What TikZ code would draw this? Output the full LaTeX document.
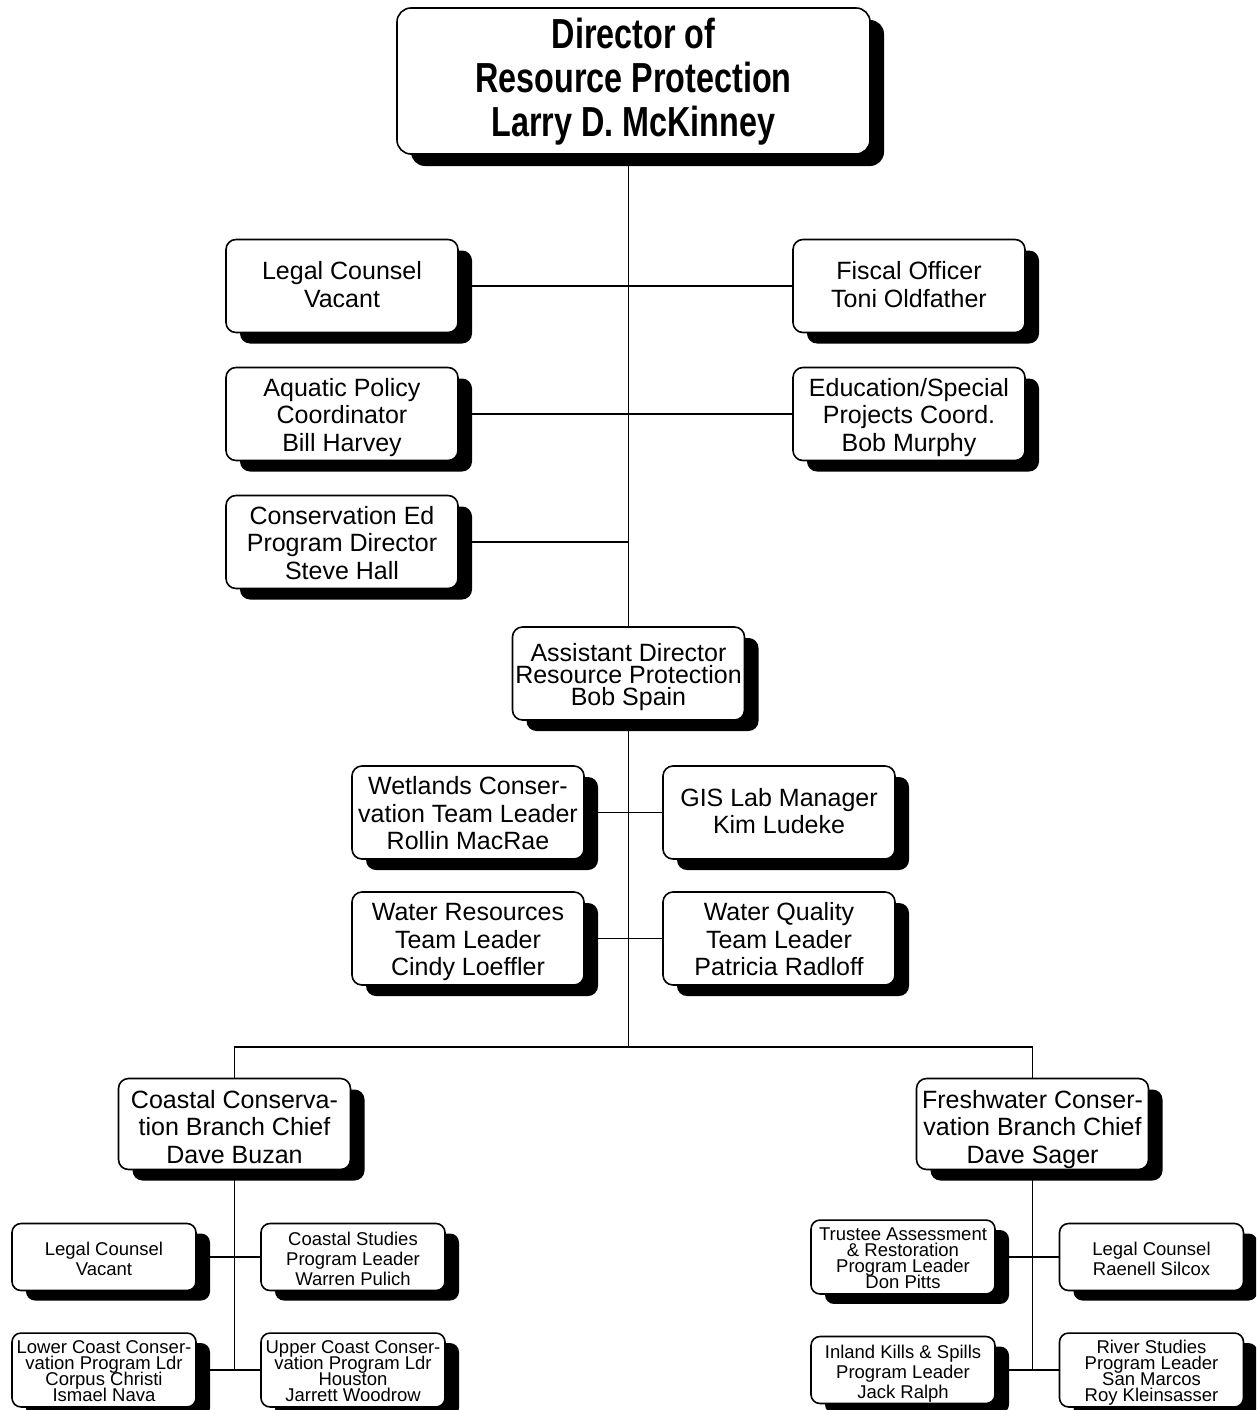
\documentclass[tikz,border=0pt]{standalone}
\usepackage{fontspec}
\setmainfont{Liberation Sans}
\newfontfamily\headfont{Liberation Sans}[FakeStretch=0.77]
\usetikzlibrary{shadows}

% invisible struts that fix the height of a box's first line (\H..)
% and the depth of its last line (\D..)
\newcommand\Htop{\vrule width 0pt height 32pt depth 0pt\relax}
\newcommand\Dtop{\vrule width 0pt height 0pt depth 10pt\relax}
\newcommand\Hmid{\vrule width 0pt height 25pt depth 0pt\relax}
\newcommand\Hpair{\vrule width 0pt height 21pt depth 0pt\relax}
\newcommand\Hbr{\vrule width 0pt height 29pt depth 0pt\relax}
\newcommand\Dmid{\vrule width 0pt height 0pt depth 6pt\relax}
\newcommand\Hsml{\vrule width 0pt height 21pt depth 0pt\relax}
\newcommand\Htgt{\vrule width 0pt height 20pt depth 0pt\relax}
\newcommand\Dsml{\vrule width 0pt height 0pt depth 5pt\relax}

\tikzset{
  unitbox/.style={draw=black, line width=1.6pt, fill=white, rectangle,
    align=center, inner sep=0pt},
  topbox/.style={unitbox, rounded corners=14pt, minimum width=473pt, minimum height=146pt,
    font=\headfont\bfseries\fontsize{42}{44}\selectfont,
    drop shadow={shadow xshift=14pt, shadow yshift=-12pt, opacity=1, fill=black}},
  midbox/.style={unitbox, rounded corners=10pt, minimum width=232pt, minimum height=93pt,
    font=\fontsize{25}{27.5}\selectfont,
    drop shadow={shadow xshift=14pt, shadow yshift=-11pt, opacity=1, fill=black}},
  smallbox/.style={unitbox, rounded corners=9pt, minimum width=184pt, minimum height=67pt,
    font=\fontsize{18.5}{20}\selectfont,
    drop shadow={shadow xshift=14pt, shadow yshift=-10pt, opacity=1, fill=black}},
  tightbox/.style={smallbox, font=\fontsize{18.5}{16.3}\selectfont},
  link/.style={draw=black, line width=1.6pt},
}

\begin{document}
\lineskiplimit=-100pt
\begin{tikzpicture}[x=1pt, y=-1pt]
\useasboundingbox (0,0) rectangle (1256,1410);
\clip (0,0) rectangle (1256,1410);

\coordinate (bar) at (628.5,1047);

% director level
\node[topbox] (dir) at (633.5,81) {Director of\Htop\\Resource Protection\\Larry D. McKinney\Dtop};

\node[midbox] (lc)  at (342,286) {Legal Counsel\Hpair\\Vacant\Dmid};
\node[midbox] (fo)  at (909,286) {Fiscal Officer\Hpair\\Toni Oldfather\Dmid};
\node[midbox] (apc) at (342,414) {Aquatic Policy\Hmid\\Coordinator\\Bill Harvey\Dmid};
\node[midbox] (esp) at (909,414) {Education/Special\Hmid\\Projects Coord.\\Bob Murphy\Dmid};
\node[midbox] (ced) at (342,542) {Conservation Ed\Hmid\\Program Director\\Steve Hall\Dmid};

\node[midbox, font=\fontsize{25}{22}\selectfont] (asst) at (628.5,673.5)
  {Assistant Director\Hmid\\Resource Protection\\Bob Spain\Dmid};

\node[midbox] (wet) at (468,812.5) {Wetlands Conser-\Hmid\\vation Team Leader\\Rollin MacRae\Dmid};
\node[midbox] (gis) at (779,812.5) {GIS Lab Manager\Hpair\\Kim Ludeke\Dmid};
\node[midbox] (wr)  at (468,938.5) {Water Resources\Hmid\\Team Leader\\Cindy Loeffler\Dmid};
\node[midbox] (wq)  at (779,938.5) {Water Quality\Hmid\\Team Leader\\Patricia Radloff\Dmid};

\node[midbox, minimum height=91pt] (coast) at (234.5,1124)
  {Coastal Conserva-\Hbr\\tion Branch Chief\\Dave Buzan\Dmid};
\node[midbox, minimum height=91pt] (fresh) at (1032.5,1124)
  {Freshwater Conser-\Hbr\\vation Branch Chief\\Dave Sager\Dmid};

% coastal branch
\node[smallbox] (lcv) at (104,1257) {Legal Counsel\Hsml\\Vacant\Dsml};
\node[smallbox] (cs)  at (353,1257) {Coastal Studies\Hsml\\Program Leader\\Warren Pulich\Dsml};
\node[tightbox] (low) at (104,1370) {Lower Coast Conser-\Htgt\\vation Program Ldr\\Corpus Christi\\Ismael Nava\Dsml};
\node[tightbox] (up)  at (353,1370) {Upper Coast Conser-\Htgt\\vation Program Ldr\\Houston\\Jarrett Woodrow\Dsml};

% freshwater branch
\node[tightbox] (ta)  at (903,1257) {Trustee Assessment\Htgt\\\& Restoration\\Program Leader\\Don Pitts\Dsml};
\node[smallbox] (lcr) at (1151.5,1257) {Legal Counsel\Hsml\\Raenell Silcox\Dsml};
\node[smallbox] (ik)  at (903,1370) {Inland Kills \& Spills\Hsml\\Program Leader\\Jack Ralph\Dsml};
\node[tightbox] (rs)  at (1151.5,1370) {River Studies\Htgt\\Program Leader\\San Marcos\\Roy Kleinsasser\Dsml};

% connectors
\path[link] (asst.north |- dir.south) -- (asst.north);
\path[link] (lc.east) -- (fo.west);
\path[link] (apc.east) -- (esp.west);
\path[link] (ced.east) -- (ced.east -| asst.north);
\path[link] (asst.south) -- (bar);
\path[link] (wet.east) -- (gis.west);
\path[link] (wr.east) -- (wq.west);
\path[link] (coast.north) |- (bar) -| (fresh.north);
\path[link] (coast.south) -- (coast.south |- low.east);
\path[link] (lcv.east) -- (cs.west);
\path[link] (low.east) -- (up.west);
\path[link] (fresh.south) -- (fresh.south |- ik.east);
\path[link] (ta.east) -- (lcr.west);
\path[link] (ik.east) -- (rs.west);
\end{tikzpicture}
\end{document}
